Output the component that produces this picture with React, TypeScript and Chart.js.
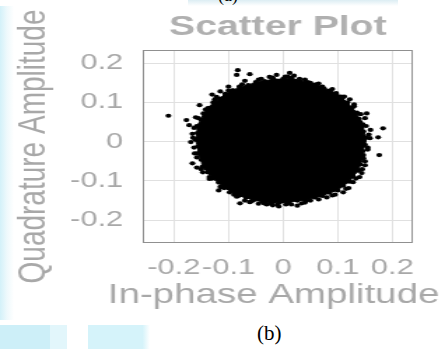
import React, { useEffect, useRef } from 'react';
import { Chart, registerables } from 'chart.js';

Chart.register(...registerables);

// Dense core of the received constellation, traced as a closed outline (I, Q)
const coreI = [
  0.0, 0.015, 0.03, 0.045, 0.06, 0.072, 0.085, 0.097, 0.108, 0.118, 0.126, 0.135, 0.139, 0.146, 0.147,
  0.153, 0.15, 0.146, 0.147, 0.141, 0.138, 0.128, 0.122, 0.11, 0.1, 0.085, 0.072, 0.058, 0.042, 0.026,
  0.01, -0.006, -0.022, -0.038, -0.055, -0.068, -0.082, -0.095, -0.108, -0.118, -0.13, -0.138, -0.148, -0.15,
  -0.157, -0.156, -0.161, -0.157, -0.158, -0.15, -0.146, -0.136, -0.128, -0.116, -0.106, -0.092, -0.08,
  -0.064, -0.05, -0.034, -0.018,
];
const coreQ = [
  0.16, 0.163, 0.155, 0.152, 0.146, 0.14, 0.13, 0.124, 0.11, 0.1, 0.086, 0.074, 0.058, 0.044, 0.026,
  0.01, -0.008, -0.024, -0.042, -0.058, -0.074, -0.088, -0.102, -0.112, -0.124, -0.13, -0.138, -0.142, -0.15, -0.15,
  -0.156, -0.154, -0.158, -0.152, -0.15, -0.142, -0.138, -0.126, -0.118, -0.104, -0.094, -0.078, -0.064, -0.046,
  -0.03, -0.012, 0.005, 0.022, 0.04, 0.056, 0.072, 0.086, 0.1, 0.11, 0.122, 0.13, 0.14,
  0.144, 0.152, 0.154, 0.16,
];

// Scattered symbols along the rim of the cloud and the stray outliers
const edgeI = [
  -0.083, -0.085, -0.061, -0.012, 0.012, 0.004, -0.04, -0.07, 0.03, 0.05, -0.025, 0.02,
  -0.092, -0.1, -0.122, -0.13, -0.153, -0.138, -0.115,
  -0.21, -0.177, -0.172, -0.16, -0.166, -0.169, -0.162, -0.166, -0.158, -0.147,
  -0.135, -0.113, -0.118, -0.098, -0.085,
  -0.079, -0.07, -0.061, -0.045, -0.03, -0.019, -0.008, 0.005, 0.034, 0.026, 0.05,
  0.067, 0.08, 0.095, 0.11, 0.12, 0.128, 0.14,
  0.144, 0.15, 0.147, 0.176, 0.155, 0.159, 0.174, 0.183, 0.16, 0.141, 0.153, 0.15,
  0.117, 0.13, 0.122, 0.098, 0.106, 0.086, 0.075,
  -0.045, -0.02, 0.008, 0.04, 0.065, 0.09, 0.112, 0.13, 0.142, 0.152, 0.157, 0.155, 0.15, 0.145,
  0.133, 0.115, 0.09, 0.065, 0.04, 0.015, -0.01, -0.035, -0.06, -0.09, -0.115, -0.135, -0.15,
  -0.158, -0.163, -0.165, -0.163, -0.155, -0.142, -0.125, -0.1, -0.075,
];
const edgeQ = [
  0.182, 0.17, 0.172, 0.17, 0.175, 0.166, 0.16, 0.155, 0.16, 0.15, 0.165, 0.168,
  0.131, 0.14, 0.114, 0.12, 0.093, 0.085, 0.128,
  0.066, 0.055, 0.042, 0.062, 0.02, -0.001, -0.03, -0.055, -0.066, -0.078,
  -0.095, -0.116, -0.124, -0.129, -0.14,
  -0.157, -0.15, -0.154, -0.158, -0.16, -0.162, -0.165, -0.16, -0.157, -0.163, -0.15,
  -0.136, -0.142, -0.135, -0.129, -0.118, -0.103, -0.09,
  -0.08, -0.06, -0.034, -0.034, -0.015, 0.009, 0.011, 0.034, 0.03, 0.05, 0.072, 0.06,
  0.093, 0.09, 0.108, 0.119, 0.115, 0.126, 0.135,
  0.158, 0.163, 0.166, 0.158, 0.148, 0.134, 0.115, 0.095, 0.07, 0.04, 0.018, -0.02, -0.05, -0.07,
  -0.094, -0.12, -0.137, -0.147, -0.155, -0.16, -0.16, -0.157, -0.153, -0.135, -0.115, -0.09, -0.07,
  -0.04, -0.015, 0.01, 0.035, 0.06, 0.082, 0.108, 0.13, 0.146,
];

const tickValues = [-0.2, -0.1, 0, 0.1, 0.2];
const tickLabels = ['-0.2', '-0.1', '0', '0.1', '0.2'];
const inPhaseRange = [-0.257, 0.2375];
const quadratureRange = [-0.258, 0.2335];

const FONT = "'Liberation Sans', Arial, Helvetica, sans-serif";
const TEXT_GREY = '#a8a8a8';
const GRID_GREY = '#e0e0e0';

// Draws the closed axes box around the plotting area
const axesBox = {
  id: 'axesBox',
  beforeDatasetsDraw(chart: any) {
    const { ctx, chartArea: a } = chart;
    ctx.save();
    ctx.strokeStyle = '#909090';
    ctx.lineWidth = 1;
    ctx.strokeRect(a.left + 0.5, a.top + 0.5, a.width - 1, a.height - 1);
    ctx.restore();
  },
};

const fixedTicks = (axis: any) => {
  axis.ticks = tickValues.map((v) => ({ value: v }));
};
const tickText = (value: any) => {
  const i = tickValues.findIndex((v) => Math.abs(v - Number(value)) < 1e-9);
  return i >= 0 ? tickLabels[i] : '';
};

// The horizontal axis title is wider than the plot area; give it room so it
// is not squeezed to the axis width when drawn.
const wideTitle = (scale: any) => {
  if (scale.__wide) return;
  scale.__wide = true;
  const drawTitle = scale.drawTitle.bind(scale);
  scale.drawTitle = () => {
    const { left, right } = scale;
    scale.left = left - 63;
    scale.right = right + 57;
    drawTitle();
    scale.left = left;
    scale.right = right;
  };
};

const POINT_R = 2.1;

export default function App() {
  const ref = useRef<HTMLCanvasElement>(null);

  useEffect(() => {
    if (!ref.current) return;
    const chart = new Chart(ref.current, {
      type: 'scatter',
      data: {
        datasets: [
          {
            label: 'core',
            data: coreI.map((x, i) => ({ x, y: coreQ[i] })),
            showLine: true,
            fill: 'shape',
            backgroundColor: '#000000',
            borderColor: '#000000',
            borderWidth: 1,
            pointRadius: POINT_R,
            pointBorderWidth: 0,
            pointBackgroundColor: '#000000',
          } as any,
          {
            label: 'edge',
            data: edgeI.map((x, i) => ({ x, y: edgeQ[i] })),
            pointRadius: POINT_R,
            pointBorderWidth: 0,
            pointBackgroundColor: '#000000',
            backgroundColor: '#000000',
          },
        ],
      },
      options: {
        animation: false,
        responsive: false,
        devicePixelRatio: 1,
        layout: { padding: { left: 0, right: 23, top: 0, bottom: 37.2 } },
        plugins: {
          legend: { display: false },
          tooltip: { enabled: false },
          title: {
            display: true,
            fullSize: false,
            text: 'Scatter Plot',
            color: '#b0b0b0',
            font: { family: FONT, size: 28, weight: 'bold', lineHeight: 1.2 },
            padding: { top: 10, bottom: 6.4 },
          },
        },
        scales: {
          x: {
            type: 'linear',
            min: inPhaseRange[0],
            max: inPhaseRange[1],
            afterBuildTicks: fixedTicks,
            afterFit: (s: any) => {
              s.height = 349 - 37.2 - 243;
              s.paddingLeft = 0;
              s.paddingRight = 0;
            },
            afterUpdate: wideTitle,
            grid: { color: GRID_GREY, lineWidth: 1, drawTicks: false },
            border: { display: false },
            ticks: {
              padding: 12,
              color: TEXT_GREY,
              font: { family: FONT, size: 22, lineHeight: 1.2 },
              maxRotation: 0,
              autoSkip: false,
              callback: tickText,
            },
            title: {
              display: true,
              text: 'In-phase Amplitude',
              color: TEXT_GREY,
              font: { family: FONT, size: 27.5, lineHeight: 1.2 },
              padding: { top: 0, bottom: 0 },
            },
          },
          y: {
            type: 'linear',
            min: quadratureRange[0],
            max: quadratureRange[1],
            afterBuildTicks: fixedTicks,
            afterFit: (s: any) => {
              s.width = 102;
              s.paddingTop = 0;
              s.paddingBottom = 0;
            },
            grid: { color: GRID_GREY, lineWidth: 1, drawTicks: false },
            border: { display: false },
            ticks: {
              padding: 14,
              color: TEXT_GREY,
              font: { family: FONT, size: 22, lineHeight: 1.2 },
              autoSkip: false,
              callback: tickText,
            },
            title: {
              display: true,
              text: 'Quadrature Amplitude',
              color: TEXT_GREY,
              font: { family: FONT, size: 28, lineHeight: 1.2 },
              padding: { top: 7, bottom: 0 },
            },
          },
        },
      },
      plugins: [axesBox],
    } as any);
    return () => chart.destroy();
  }, []);

  return (
    <div
      style={{
        position: 'fixed',
        left: 0,
        top: 0,
        width: 445,
        height: 349,
        overflow: 'hidden',
        background: '#ffffff',
      }}
    >
      {/* page margin strips */}
      <div
        style={{
          position: 'absolute',
          left: 0,
          top: 6,
          width: 14,
          height: 314,
          background: 'linear-gradient(to right, #d3f1f9 0%, #eef9fc 50%, rgba(255,255,255,0) 100%)',
        }}
      />
      <div
        style={{
          position: 'absolute',
          left: 188,
          top: 0,
          width: 210,
          height: 6,
          background: 'linear-gradient(to bottom, #dcedf3, #ffffff)',
        }}
      />
      <div style={{ position: 'absolute', left: 0, top: 325, width: 50, height: 24, background: '#cdeff8' }} />
      <div style={{ position: 'absolute', left: 50, top: 325, width: 17, height: 24, background: '#e2f6fb' }} />
      <div
        style={{
          position: 'absolute',
          left: 88,
          top: 325,
          width: 62,
          height: 24,
          background: 'linear-gradient(to right, #d5f3fa 0%, #d5f3fa 88%, rgba(255,255,255,0) 100%)',
        }}
      />
      <div
        style={{
          position: 'absolute',
          left: 218,
          top: -14,
          fontFamily: "'Liberation Serif', 'Times New Roman', serif",
          fontSize: 18,
          lineHeight: '18px',
          color: '#000',
        }}
      >
        (a)
      </div>
      <div
        style={{
          position: 'absolute',
          left: 257,
          top: 323,
          fontFamily: "'Liberation Serif', 'Times New Roman', serif",
          fontSize: 21,
          lineHeight: '21px',
          color: '#000',
        }}
      >
        (b)
      </div>

      <div
        style={{
          position: 'absolute',
          left: 0,
          top: 0,
          width: 318,
          height: 349,
          transform: `scaleX(${445 / 318})`,
          transformOrigin: '0 0',
        }}
      >
        <canvas ref={ref} width={318} height={349} style={{ display: 'block', width: 318, height: 349 }} />
      </div>
    </div>
  );
}
